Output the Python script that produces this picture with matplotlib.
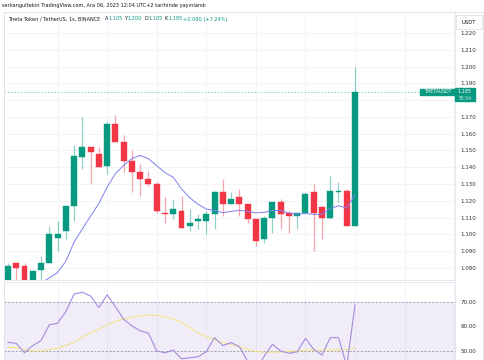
import matplotlib
matplotlib.use('Agg')
import matplotlib.pyplot as plt
import matplotlib.transforms as mtransforms
from matplotlib.patches import Rectangle
import numpy as np

# ---------------- data ----------------
opens = [1.071, 1.083, 1.081, 1.072, 1.079, 1.083, 1.098, 1.102, 1.117, 1.146,
         1.152, 1.148, 1.141, 1.166, 1.155, 1.144, 1.137, 1.133, 1.130, 1.113,
         1.112, 1.114, 1.105, 1.108, 1.108, 1.112, 1.125, 1.118, 1.122, 1.118,
         1.109, 1.097, 1.110, 1.119, 1.113, 1.111, 1.113, 1.125, 1.116, 1.110,
         1.125, 1.126, 1.105]
highs = [1.083, 1.083, 1.083, 1.079, 1.087, 1.105, 1.108, 1.117, 1.153, 1.170,
         1.152, 1.152, 1.167, 1.171, 1.159, 1.150, 1.142, 1.138, 1.131, 1.122,
         1.121, 1.123, 1.115, 1.112, 1.114, 1.126, 1.133, 1.125, 1.127, 1.118,
         1.109, 1.111, 1.119, 1.121, 1.114, 1.113, 1.125, 1.130, 1.117, 1.135,
         1.131, 1.127, 1.200]
lows = [1.068, 1.071, 1.070, 1.070, 1.073, 1.083, 1.090, 1.097, 1.108, 1.139,
        1.130, 1.140, 1.136, 1.165, 1.137, 1.125, 1.123, 1.129, 1.113, 1.107,
        1.109, 1.104, 1.102, 1.103, 1.100, 1.103, 1.111, 1.118, 1.111, 1.107,
        1.093, 1.095, 1.101, 1.103, 1.101, 1.103, 1.113, 1.090, 1.097, 1.109,
        1.119, 1.105, 1.105]
closes = [1.081, 1.080, 1.072, 1.078, 1.083, 1.100, 1.100, 1.117, 1.147, 1.152,
          1.149, 1.140, 1.166, 1.155, 1.144, 1.137, 1.133, 1.130, 1.114, 1.112,
          1.115, 1.104, 1.107, 1.109, 1.112, 1.125, 1.118, 1.121, 1.118, 1.109,
          1.096, 1.110, 1.119, 1.112, 1.111, 1.113, 1.124, 1.113, 1.110, 1.126,
          1.126, 1.105, 1.185]
ma9 = [1.066, 1.067, 1.068, 1.069, 1.071, 1.074, 1.0772, 1.0840, 1.0953, 1.1032,
       1.1109, 1.1184, 1.1282, 1.1362, 1.1411, 1.1452, 1.1470, 1.1451, 1.1409, 1.1368,
       1.1340, 1.1271, 1.1218, 1.1179, 1.1151, 1.1142, 1.1129, 1.1137, 1.1143, 1.1137,
       1.1128, 1.1131, 1.1142, 1.1142, 1.1127, 1.1121, 1.1124, 1.1119, 1.1120, 1.1153,
       1.1171, 1.1156, 1.1237]
rsi = [53.6, 53.2, 49.4, 52.3, 54.3, 60.7, 61.3, 66.0, 73.1, 73.8,
       72.3, 67.6, 72.8, 68.0, 62.9, 60.2, 58.3, 57.3, 50.1, 49.4,
       50.5, 47.0, 47.4, 47.8, 49.8, 55.5, 52.3, 53.5, 51.9, 46.0,
       42.0, 48.0, 52.8, 50.1, 49.2, 49.8, 55.2, 50.8, 48.5, 55.5,
       55.5, 44.0, 68.7]
rsi_ma = [51.6, 51.5, 50.6, 50.2, 50.2, 50.7, 51.2, 52.4, 53.6, 55.8,
          57.3, 58.9, 60.5, 62.2, 63.0, 63.7, 64.3, 64.6, 64.5, 63.9,
          62.9, 61.6, 59.6, 57.5, 55.9, 54.6, 53.5, 52.8, 51.7, 50.8,
          49.9, 49.6, 49.7, 49.7, 50.0, 50.2, 50.4, 50.5, 50.4, 50.6,
          50.5, 50.8, 51.2]
price_ticks = [1.080, 1.090, 1.100, 1.110, 1.120, 1.130, 1.140, 1.150,
               1.160, 1.170, 1.190, 1.200, 1.210, 1.220]
grid_levels = [1.080, 1.090, 1.100, 1.110, 1.120, 1.130, 1.140, 1.150,
               1.160, 1.170, 1.180, 1.190, 1.200, 1.210, 1.220]
rsi_ticks = [50, 60, 70]
symbol = "THETAUSDT"
countdown = "55:54"

# ---------------- style ----------------
GREEN = '#089981'
RED = '#f23645'
GRID = '#f0f3fa'
TXT = '#131722'
BORDER = '#e0e3eb'
FONT = 'DejaVu Sans'
plt.rcParams['font.family'] = [FONT]

W, H = 485, 360
fig = plt.figure(figsize=(W / 100, H / 100), dpi=100)
fig.patch.set_facecolor('white')


def fx(px):
    return px / W


def fy(py):
    return 1 - py / H


L, R = 4, 455
ax = fig.add_axes([fx(L), fy(280), fx(R) - fx(L), fy(12) - fy(280)])
ax2 = fig.add_axes([fx(L), fy(360), fx(R) - fx(L), fy(282) - fy(360)], sharex=ax)

n = len(closes)
x = np.arange(n)
o = np.array(opens); c = np.array(closes); h = np.array(highs); lo = np.array(lows)
up = c >= o
cols = np.where(up, GREEN, RED)

for a in (ax, ax2):
    a.set_facecolor('white')
    for s in a.spines.values():
        s.set_color(BORDER)
        s.set_linewidth(0.6)
    a.tick_params(axis='x', bottom=False, labelbottom=False)
    a.yaxis.tick_right()
    a.tick_params(axis='y', length=0, labelsize=4.0, colors='#2a2e39', pad=4)
    for v in range(6, 60, 6):
        a.axvline(v, color=GRID, lw=0.6, zorder=0)

ax.set_xlim(-0.484, 54.1)
ax.set_ylim(1.07277, 1.23256)
ax.set_yticks(price_ticks)
ax.set_yticklabels([f"{t:.3f}" for t in price_ticks])
for t in grid_levels:
    ax.axhline(t, color=GRID, lw=0.6, zorder=0)

# wicks and bodies
for i in range(n):
    ax.vlines(x[i], lo[i], h[i], color=cols[i], alpha=0.45, lw=0.9, zorder=2)
body_b = np.minimum(o, c)
body_h = np.maximum(np.abs(c - o), 0.0004)
ax.bar(x, body_h, bottom=body_b, width=0.72, color=cols, edgecolor=cols,
       linewidth=0.3, zorder=3)

ax.plot(x, ma9, color='#7f7ff2', lw=0.7, zorder=4)

# last price line and labels
last = closes[-1]
ax.axhline(last, color=GREEN, lw=0.6, ls=(0, (2, 2)), alpha=0.5, zorder=1)
bt = mtransforms.blended_transform_factory(ax.transAxes, ax.transData)
ax.add_patch(Rectangle((0.922, last - 0.0021), 1.0 - 0.922, 0.0040,
                       transform=bt, color=GREEN, zorder=6, clip_on=False))
ax.text(0.961, last - 0.0001, symbol, transform=bt, color='white', fontsize=3.3,
        ha='center', va='center', zorder=7, clip_on=False)
ax.add_patch(Rectangle((1.0, last - 0.0057), 0.0443, 0.0077,
                       transform=bt, color=GREEN, zorder=6, clip_on=False))
ax.text(1.022, last + 0.0001, f"{last:.3f}", transform=bt, color='white', fontsize=3.5,
        ha='center', va='center', zorder=7, clip_on=False)
ax.text(1.022, last - 0.0038, countdown, transform=bt, color='#d5efe9', fontsize=3.3,
        ha='center', va='center', zorder=7, clip_on=False)

# ---------------- RSI panel ----------------
ax2.set_ylim(46.49, 77.94)
ax2.set_yticks(rsi_ticks)
ax2.set_yticklabels([f"{t:.2f}" for t in rsi_ticks])
ax2.axhspan(30, 70, color='#7e57c2', alpha=0.1, lw=0, zorder=0)
for t in (70, 50):
    ax2.axhline(t, color='#9598a1', lw=0.6, ls=(0, (2.5, 2)), zorder=1)
ax2.plot(x, rsi_ma, color='#f7e37c', lw=0.7, zorder=3)
ax2.plot(x, rsi, color='#a58bdc', lw=0.8, zorder=4)

# ---------------- frame and header ----------------
fig.add_artist(Rectangle((fx(4), fy(360)), fx(483) - fx(4), fy(12) - fy(360),
                         transform=fig.transFigure, fill=False, edgecolor=BORDER, lw=0.6))
fig.add_artist(Rectangle((fx(456), fy(29)), fx(482) - fx(456), fy(15) - fy(29),
                         transform=fig.transFigure, fill=False, edgecolor=BORDER, lw=0.6))
fig.text(fx(469), fy(22), "USDT", fontsize=3.8, color=TXT, ha='center', va='center')

fig.text(fx(2), fy(6), "serkangultekin TradingView.com, Ara 06, 2023 12:04 UTC+2 tarihinde yayınlandı",
         fontsize=3.65, color=TXT, ha='left', va='center')

pieces = [(8, "Theta Token / TetherUS, 1s, BINANCE", TXT),
          (105, "A", TXT), (108.5, f"{opens[-1]:.3f}", GREEN),
          (124.5, "Y", TXT), (128, f"{highs[-1]:.3f}", GREEN),
          (144.5, "D", TXT), (148.5, f"{lows[-1]:.3f}", GREEN),
          (164.5, "K", TXT), (168.5, f"{closes[-1]:.3f}", GREEN),
          (183, f"+{closes[-1]-opens[-1]:.3f} (+7.24%)", GREEN)]
for px, s, col in pieces:
    fig.text(fx(px), fy(19), s, fontsize=3.6, color=col, ha='left', va='center')

fig.savefig('out.png', dpi=100, facecolor='white')
